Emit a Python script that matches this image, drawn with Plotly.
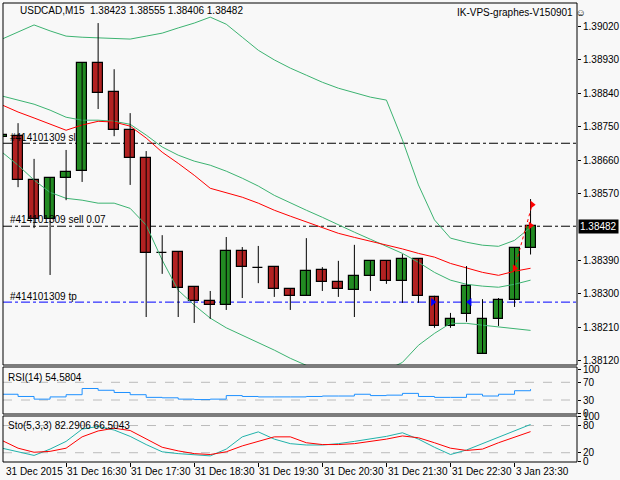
import plotly.graph_objects as go

# USDCAD M15 candles
opens = [1.38722, 1.38724, 1.38606, 1.38501, 1.38612, 1.38630, 1.38921, 1.38843, 1.38741, 1.38665,
         1.38410, 1.38413, 1.38319, 1.38281, 1.38270, 1.38415, 1.38370, 1.38372, 1.38313, 1.38295,
         1.38364, 1.38332, 1.38311, 1.38348, 1.38389, 1.38335, 1.38394, 1.38292, 1.38214, 1.38246,
         1.38139, 1.38233, 1.38284, 1.38423]
highs = [1.38740, 1.38759, 1.38663, 1.38612, 1.38687, 1.38923, 1.39028, 1.38904, 1.38786, 1.38684,
         1.38458, 1.38413, 1.38319, 1.38308, 1.38453, 1.38426, 1.38429, 1.38375, 1.38313, 1.38450,
         1.38372, 1.38389, 1.38432, 1.38389, 1.38391, 1.38407, 1.38394, 1.38295, 1.38249, 1.38375,
         1.38286, 1.38289, 1.38424, 1.38555]
lows = [1.38715, 1.38587, 1.38477, 1.38351, 1.38552, 1.38601, 1.38797, 1.38724, 1.38593, 1.38238,
        1.38354, 1.38238, 1.38222, 1.38233, 1.38257, 1.38289, 1.38329, 1.38292, 1.38257, 1.38295,
        1.38308, 1.38292, 1.38238, 1.38308, 1.38327, 1.38276, 1.38276, 1.38209, 1.38209, 1.38225,
        1.38139, 1.38214, 1.38265, 1.38406]
closes = [1.38727, 1.38606, 1.38501, 1.38612, 1.38628, 1.38921, 1.38840, 1.38741, 1.38665, 1.38410,
          1.38410, 1.38316, 1.38281, 1.38270, 1.38415, 1.38372, 1.38370, 1.38313, 1.38295, 1.38362,
          1.38332, 1.38313, 1.38348, 1.38389, 1.38335, 1.38394, 1.38295, 1.38214, 1.38233, 1.38321,
          1.38233, 1.38284, 1.38424, 1.38482]

bb_upper = [1.38985, 1.39004, 1.39023, 1.39007, 1.38993, 1.38990, 1.38988, 1.38985, 1.38985, 1.38993,
            1.39001, 1.39015, 1.39028, 1.39044, 1.39025, 1.38990, 1.38955, 1.38929, 1.38907, 1.38888,
            1.38869, 1.38853, 1.38840, 1.38829, 1.38821, 1.38714, 1.38593, 1.38499, 1.38450, 1.38439,
            1.38431, 1.38428, 1.38444, 1.38479]
bb_mid = [1.38832, 1.38821, 1.38810, 1.38794, 1.38775, 1.38767, 1.38767, 1.38764, 1.38756, 1.38727,
          1.38695, 1.38673, 1.38657, 1.38646, 1.38630, 1.38611, 1.38590, 1.38565, 1.38544, 1.38525,
          1.38506, 1.38485, 1.38466, 1.38447, 1.38428, 1.38409, 1.38385, 1.38358, 1.38337, 1.38326,
          1.38321, 1.38318, 1.38326, 1.38337]
bb_lower = [1.38681, 1.38646, 1.38606, 1.38573, 1.38557, 1.38552, 1.38544, 1.38544, 1.38530, 1.38485,
            1.38391, 1.38310, 1.38270, 1.38235, 1.38209, 1.38189, 1.38170, 1.38149, 1.38127, 1.38108,
            1.38095, 1.38084, 1.38079, 1.38084, 1.38095, 1.38116, 1.38162, 1.38194, 1.38221, 1.38221,
            1.38216, 1.38211, 1.38205, 1.38202]
ma_red = [1.38808, 1.38789, 1.38773, 1.38756, 1.38740, 1.38754, 1.38764, 1.38762, 1.38751, 1.38719,
          1.38681, 1.38651, 1.38619, 1.38584, 1.38573, 1.38560, 1.38544, 1.38525, 1.38509, 1.38493,
          1.38477, 1.38463, 1.38452, 1.38442, 1.38432, 1.38421, 1.38409, 1.38399, 1.38382, 1.38369,
          1.38358, 1.38350, 1.38361, 1.38369]

rsi = [43, 38, 32, 37, 42, 56, 52, 47, 42, 36, 35, 32, 31, 32, 40, 38, 37, 37, 37, 38,
       39, 39, 43, 40, 41, 45, 38, 36, 36, 43, 39, 43, 51, 54.58]
sto_main = [30, 22, 14, 28, 45, 72, 78, 70, 56, 38, 22, 18, 15, 13, 28, 55, 66, 50, 40, 37,
            37, 40, 45, 50, 56, 64, 50, 32, 16, 26, 40, 55, 68, 82.29]
sto_signal = [47, 30, 21, 23, 30, 55, 68, 74, 69, 50, 32, 24, 18, 16, 22, 35, 45, 55, 55, 42,
              38, 38, 40, 45, 50, 57, 53, 42, 30, 25, 28, 42, 55, 66.5]

sl_price = 1.38705
sell_price = 1.38482
tp_price = 1.38278

price_ticks = [1.39020, 1.38930, 1.38840, 1.38750, 1.38660, 1.38570, 1.38390, 1.38300, 1.38210, 1.38120]
time_idx = [0, 4, 8, 12, 16, 20, 24, 28, 32]
time_labels = ["31 Dec 2015", "31 Dec 16:30", "31 Dec 17:30", "31 Dec 18:30", "31 Dec 19:30",
               "31 Dec 20:30", "31 Dec 21:30", "31 Dec 22:30", "3 Jan 23:30"]

x = list(range(len(opens)))
FONT = "Liberation Sans"
GREEN = "#3cb371"

fig = go.Figure()
for band in (bb_upper, bb_mid, bb_lower):
    fig.add_trace(go.Scatter(x=x, y=band, mode="lines", line=dict(color=GREEN, width=1), yaxis="y"))
fig.add_trace(go.Scatter(x=x, y=ma_red, mode="lines", line=dict(color="red", width=1), yaxis="y"))

# candles: wicks as one line trace, bodies as bars
wx, wy = [], []
for i in x:
    wx += [i, i, None]
    wy += [lows[i], highs[i], None]
fig.add_trace(go.Scatter(x=wx, y=wy, mode="lines", line=dict(color="black", width=1), yaxis="y"))
body_base = [min(o, c) for o, c in zip(opens, closes)]
body_h = [max(abs(c - o), 0.000005) for o, c in zip(opens, closes)]
body_col = ["#228b22" if c > o else ("black" if c == o else "#b22222") for o, c in zip(opens, closes)]
fig.add_trace(go.Bar(x=x, y=body_h, base=body_base, width=0.62, marker=dict(
    color=body_col, line=dict(color="black", width=1.2)), yaxis="y"))

# order arrows
fig.add_trace(go.Scatter(x=[32, 33.1], y=[1.38369, 1.38540], mode="lines",
                         line=dict(color="red", width=1, dash="dot"), yaxis="y"))
fig.add_trace(go.Scatter(x=[32, 33, 33.1], y=[1.38369, 1.38484, 1.38540], mode="markers",
                         marker=dict(symbol="triangle-right", color="red", size=7), yaxis="y"))
fig.add_trace(go.Scatter(x=[26.9, 29.2], y=[tp_price, tp_price], mode="markers",
                         marker=dict(symbol=["triangle-right", "triangle-left"], color="blue", size=7),
                         yaxis="y"))

fig.add_trace(go.Scatter(x=x, y=rsi, mode="lines", line=dict(color="#1e90ff", width=1, shape="hv"), yaxis="y2"))
fig.add_trace(go.Scatter(x=x, y=sto_main, mode="lines", line=dict(color="#20b2aa", width=1), yaxis="y3"))
fig.add_trace(go.Scatter(x=x, y=sto_signal, mode="lines", line=dict(color="red", width=1), yaxis="y3"))

shapes = []
for p, c in ((sl_price, "black"), (sell_price, "black"), (tp_price, "blue")):
    shapes.append(dict(type="line", xref="paper", x0=3 / 620, x1=577 / 620, yref="y", y0=p, y1=p,
                       line=dict(color=c, width=1, dash="dashdot"), layer="below"))
for lvl, yr in ((70, "y2"), (30, "y2"), (80, "y3"), (20, "y3")):
    shapes.append(dict(type="line", xref="paper", x0=3 / 620, x1=577 / 620, yref=yr, y0=lvl, y1=lvl,
                       line=dict(color="#bbbbbb", width=1, dash="dash"), layer="below"))
for top, bot in ((3, 365), (367, 414), (416, 462)):
    shapes.append(dict(type="rect", xref="paper", yref="paper", x0=3 / 620, x1=577 / 620,
                       y0=1 - bot / 480, y1=1 - top / 480, line=dict(color="black", width=1)))

ann = [
    dict(text="USDCAD,M15  1.38423 1.38555 1.38406 1.38482", x=18 / 620, y=1 - 10 / 480),
    dict(text="IK-VPS-graphes-V150901 ☺", x=455 / 620, y=1 - 12 / 480),
    dict(text="RSI(14) 54.5804", x=6 / 620, y=1 - 377 / 480),
    dict(text="Sto(5,3,3) 82.2906 66.5043", x=6 / 620, y=1 - 425 / 480),
    dict(text="#414101309 sl", x=8 / 620, y=1 - 137 / 480),
    dict(text="#414101309 sell 0.07", x=8 / 620, y=1 - 220 / 480),
    dict(text="#414101309 tp", x=8 / 620, y=1 - 296 / 480),
]
annotations = [dict(xref="paper", yref="paper", xanchor="left", yanchor="middle", showarrow=False,
                    font=dict(family=FONT, size=10, color="black"), **a) for a in ann]
for i, t in zip(time_idx, time_labels):
    annotations.append(dict(xref="x", yref="paper", x=max(i - 0.05, 0.1), y=1 - 471 / 480, text=t,
                            showarrow=False, xanchor="left", yanchor="middle",
                            font=dict(family=FONT, size=10, color="black")))
annotations.append(dict(xref="paper", yref="y", x=578 / 620, y=sell_price, text="1.38482", showarrow=False,
                        xanchor="left", yanchor="middle", bgcolor="black", borderpad=1,
                        font=dict(family=FONT, size=10, color="white")))

axis_font = dict(family=FONT, size=10, color="black")
fig.update_layout(
    width=620, height=480, margin=dict(l=0, r=0, t=0, b=0, autoexpand=False),
    paper_bgcolor="#f8f8f8", plot_bgcolor="#f8f8f8", showlegend=False, bargap=0,
    shapes=shapes, annotations=annotations,
    xaxis=dict(domain=[3 / 620, 577 / 620], range=[0.06, 35.9], anchor="y3", showgrid=False,
               zeroline=False, tickvals=time_idx, automargin=False,
               ticktext=[""] * len(time_idx), ticks="outside", ticklen=4, tickcolor="black"),
    yaxis=dict(domain=[1 - 365 / 480, 1 - 3 / 480], range=[1.38109, 1.39082], side="right",
               tickvals=price_ticks, ticktext=[f"{v:.5f}" for v in price_ticks], tickfont=axis_font,
               ticks="outside", ticklen=3, tickcolor="black", showgrid=False, zeroline=False,
               automargin=False),
    yaxis2=dict(domain=[1 - 414 / 480, 1 - 367 / 480], range=[-1.6, 104.6], side="right", anchor="x",
                tickvals=[100, 70, 30, 0], tickfont=axis_font, ticks="outside", ticklen=3,
                tickcolor="black", showgrid=False, zeroline=False, automargin=False),
    yaxis3=dict(domain=[1 - 462 / 480, 1 - 416 / 480], range=[-0.5, 101], side="right", anchor="x",
                tickvals=[100, 80, 20, 0], tickfont=axis_font, ticks="outside", ticklen=3,
                tickcolor="black", showgrid=False, zeroline=False, automargin=False),
)
fig.write_html("out.html", config={"displayModeBar": False},
               post_script="document.body.style.margin='0';")
